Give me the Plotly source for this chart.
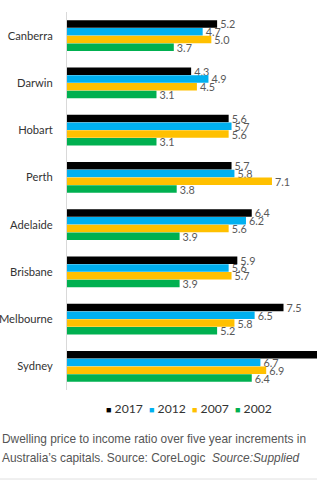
import plotly.graph_objects as go

cities = ["Canberra", "Darwin", "Hobart", "Perth", "Adelaide", "Brisbane", "Melbourne", "Sydney"]
years = ["2017", "2012", "2007", "2002"]
v2017 = [5.2, 4.3, 5.6, 5.7, 6.4, 5.9, 7.5, 8.8]
v2012 = [4.7, 4.9, 5.7, 5.8, 6.2, 5.6, 6.5, 6.7]
v2007 = [5.0, 4.5, 5.6, 7.1, 5.6, 5.7, 5.8, 6.9]
v2002 = [3.7, 3.1, 3.1, 3.8, 3.9, 3.9, 5.2, 6.4]
series = [v2017, v2012, v2007, v2002]
colors = ["#000000", "#00B0F0", "#FFC000", "#00B050"]
x_max = 8.66  # visible end of the value axis (the Sydney 2017 bar runs off the chart)

fig = go.Figure()
for name, vals, col in zip(years, series, colors):
    fig.add_trace(go.Bar(
        y=cities, x=vals, name=name, orientation="h",
        marker=dict(color=col, line=dict(width=0)),
        text=[f"{v:.1f}" if v < x_max else "" for v in vals], textposition="outside",
        textfont=dict(family="Lato", size=10.8, color="#595959"),
        constraintext="none", cliponaxis=True, showlegend=False,
    ))

W, H = 331, 484
ml, mr, mt, mb = 67, 14, 12, 94
pw = W - ml - mr
ph = H - mt - mb

def px(xp):
    return (xp - ml) / pw

def py(yp):
    return (H - mb - yp) / ph

fig.update_layout(
    width=W, height=H,
    margin=dict(l=ml, r=mr, t=mt, b=mb, pad=0, autoexpand=False),
    paper_bgcolor="white", plot_bgcolor="white",
    barmode="group", bargap=0.34, bargroupgap=0.04,
    showlegend=False,
    xaxis=dict(range=[0, x_max], visible=False, showgrid=False, zeroline=False, fixedrange=True),
    yaxis=dict(categoryorder="array", categoryarray=cities, autorange="reversed", automargin=False,
               showline=True, linecolor="#d9d9d9", linewidth=1, ticks="",
               showgrid=False, zeroline=False, ticklabelstandoff=11,
               tickfont=dict(family="Lato", size=11.2, color="#333333")),
    font=dict(family="Lato"),
)

# legend drawn as annotations (square marker + year)
leg_x = [104, 147, 190, 233]
for name, col, lx in zip(years, colors, leg_x):
    fig.add_annotation(xref="paper", yref="paper", x=px(lx), y=py(408), xanchor="left", yanchor="middle",
                       text=f"<span style='color:{col};font-size:9px'>\u25A0</span> {name}", showarrow=False,
                       font=dict(family="Lato", size=12.2, color="#333333"))

fig.add_annotation(xref="paper", yref="paper", x=px(0), y=py(439), xanchor="left", yanchor="middle",
                   text="Dwelling price to income ratio over five year increments in",
                   showarrow=False, font=dict(family="Liberation Sans", size=11.9, color="#555555"))
fig.add_annotation(xref="paper", yref="paper", x=px(0), y=py(458), xanchor="left", yanchor="middle",
                   text="Australia\u2019s capitals. Source: CoreLogic  <i>Source:Supplied</i>",
                   showarrow=False, font=dict(family="Liberation Sans", size=11.9, color="#555555"))
fig.add_shape(type="line", xref="paper", yref="paper", x0=px(0), x1=px(317), y0=py(479), y1=py(479),
              line=dict(color="#e0e0e0", width=1))

fig.write_html("out.html")
